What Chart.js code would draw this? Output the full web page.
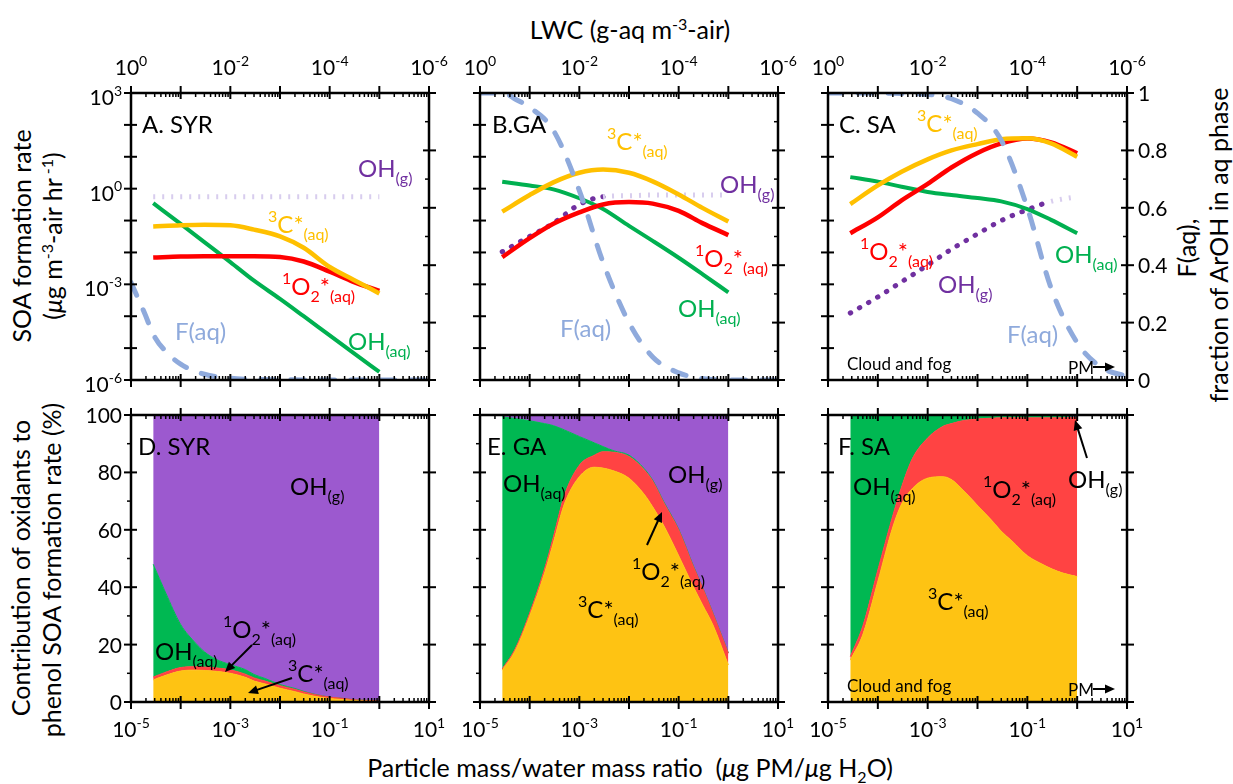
<!DOCTYPE html>
<html>
<head>
<meta charset="utf-8">
<script src="https://cdn.jsdelivr.net/npm/chart.js@4.4.0/dist/chart.umd.min.js"></script>
<style>
  body { margin: 0; width: 1233px; height: 784px; background: #fff; position: relative; overflow: hidden; font-family: Lato, sans-serif; }
  canvas { position: absolute; }
  .t { position: absolute; font-size: 25px; line-height: 1; white-space: nowrap; transform: translate(-50%, -50%); color: #000; }
  .r { transform: translate(-50%, -50%) rotate(-90deg); }
  .t sup, .t sub { font-size: 16px; }
</style>
</head>
<body>
<div class="t" style="left:630px; top:29px">LWC (g-aq m<sup>-3</sup>-air)</div>
<div class="t" style="left:630px; top:770px">Particle mass/water mass ratio&nbsp;&nbsp;(<i>μ</i>g PM/<i>μ</i>g H<sub>2</sub>O)</div>
<div class="t r" style="left:21px; top:236px">SOA formation rate</div>
<div class="t r" style="left:52px; top:236px">(<i>μ</i>g m<sup>-3</sup>-air hr<sup> -1</sup>)</div>
<div class="t r" style="left:20px; top:568px">Contribution of oxidants to</div>
<div class="t r" style="left:51px; top:570px">phenol SOA formation rate (%)</div>
<div class="t r" style="left:1186px; top:248px">F(aq),</div>
<div class="t r" style="left:1218px; top:245px">fraction of ArOH in aq phase</div>
<script>
// x grids (particle mass / water mass ratio)
const xRate = [2.8e-5, 1e-4, 3e-4, 1e-3, 3e-3, 1e-2, 3e-2, 0.1, 0.3, 1];
const xFaq = [1e-5, 1.8e-5, 3e-5, 5e-5, 1e-4, 3e-4, 1e-3, 3e-3, 1e-2, 3e-2, 0.1, 0.3, 1, 3, 10];
const xShare = [2.8e-5, 5e-5, 1e-4, 2e-4, 3e-4, 5e-4, 1e-3, 2e-3, 3e-3, 5e-3, 1e-2, 2e-2, 3e-2, 5e-2, 0.1, 0.2, 0.3, 0.5, 1];

// SOA formation rates (ug m-3 air hr-1)
const syrC3 = [0.065, 0.071, 0.074, 0.071, 0.052, 0.032, 0.014, 3.5e-3, 1.4e-3, 5.2e-4];
const syrO2 = [6.9e-3, 7.4e-3, 7.6e-3, 7.6e-3, 7.6e-3, 7.2e-3, 5.2e-3, 2.5e-3, 1.2e-3, 6.2e-4];
const syrOHaq = [0.35, 0.079, 0.021, 5.0e-3, 1.3e-3, 3.5e-4, 1.0e-4, 2.5e-5, 7.1e-6, 1.8e-6];
const syrOHg = [0.56, 0.56, 0.56, 0.56, 0.56, 0.56, 0.56, 0.56, 0.56, 0.56];
const syrFaq = [0.34, 0.24, 0.15, 0.1, 0.055, 0.02, 0.006, 0.002, 0.001, 0, 0, 0, 0, 0, 0];

const gaC3 = [0.19, 0.63, 1.58, 3.16, 3.98, 3.16, 1.70, 0.66, 0.25, 0.093];
const gaO2 = [7.1e-3, 0.028, 0.079, 0.18, 0.32, 0.38, 0.34, 0.20, 0.083, 0.035];
const gaOHaq = [1.66, 1.26, 0.95, 0.50, 0.23, 0.068, 0.023, 6.8e-3, 2.1e-3, 5.6e-4];
const gaOHg = [0.0105, 0.032, 0.083, 0.32, 0.56, 0.60, 0.63, 0.63, 0.63, 0.63];
const gaFaq = [1.0, 1.0, 1.0, 0.98, 0.95, 0.87, 0.66, 0.41, 0.2, 0.08, 0.025, 0.005, 0, 0, 0];

const saC3 = [0.33, 1.26, 3.4, 8.3, 15.8, 25, 35.5, 38, 26.3, 10];
const saO2 = [0.040, 0.126, 0.43, 1.41, 4.6, 13.2, 26.3, 37.2, 28.2, 12.9];
const saOHaq = [2.3, 1.66, 1.15, 0.79, 0.63, 0.51, 0.40, 0.23, 0.105, 0.040];
const saOHg = [1.26e-4, 4.0e-4, 1.2e-3, 4.0e-3, 0.0126, 0.038, 0.10, 0.22, 0.40, 0.56];
const saFaq = [1, 1, 1, 1, 1, 0.998, 0.995, 0.98, 0.93, 0.835, 0.6, 0.32, 0.13, 0.045, 0.012];

// contribution of oxidants (%)
const syrShC3 = [7.7, 9.3, 10.8, 11.1, 11, 10.7, 10, 8.6, 7.3, 6.3, 4.8, 3.6, 2.8, 2, 1.2, 0.8, 0.5, 0.35, 0.2];
const syrShO2 = [1.0, 1.1, 1.2, 1.2, 1.2, 1.2, 1.2, 1.1, 1.1, 1.0, 0.9, 0.8, 0.7, 0.6, 0.5, 0.4, 0.3, 0.25, 0.2];
const syrShOHaq = [39.3, 27.6, 15, 8.2, 5.3, 3.1, 1.8, 1.6, 1.2, 0.9, 0.4, 0.3, 0.2, 0.1, 0, 0, 0, 0, 0];
const syrShOHg = [52, 62, 73, 79.5, 82.5, 85, 87, 88.7, 90.4, 91.8, 93.9, 95.3, 96.3, 97.3, 98.3, 98.8, 99.2, 99.4, 99.6];

const gaShC3 = [11.1, 17.5, 30, 45, 55.5, 69, 78.5, 81.8, 81.5, 80.5, 78, 72.5, 68, 61.5, 51, 40, 34, 26.5, 12.9];
const gaShO2 = [0.4, 0.7, 1, 1.5, 2, 3, 4, 4.2, 5.7, 6.5, 7.5, 8.5, 9, 8, 9, 7, 6, 4, 4.1];
const gaShOHaq = [87.9, 80.6, 67, 50.5, 38.8, 22.8, 10, 4.3, 1.8, 0.5, 0.5, 0.4, 0.3, 0.3, 0.2, 0.2, 0.1, 0.1, 0.1];
const gaShOHg = [0.6, 1.2, 2, 3, 3.7, 5.2, 7.5, 9.7, 11, 12.5, 14, 18.6, 22.7, 30.2, 39.8, 52.8, 59.9, 69.4, 82.9];

const saShC3 = [14.6, 23.5, 42, 61, 69, 74.5, 78, 78.5, 77.5, 74, 68.5, 63, 59.5, 56, 51, 48, 46.5, 45, 43.7];
const saShO2 = [1.2, 3, 4, 4, 6, 10.5, 14, 17.5, 19.5, 24, 30.1, 35.9, 39.5, 43, 48, 51, 52.5, 54, 55.5];
const saShOHaq = [84.2, 73.5, 54, 35, 25, 15, 8, 4, 3, 2, 1.4, 1.1, 1, 0.9, 0.8, 0.8, 0.7, 0.5, 0];
const saShOHg = [0, 0, 0, 0, 0, 0, 0, 0, 0, 0, 0, 0, 0, 0.1, 0.2, 0.2, 0.3, 0.5, 0.8];

// ticks
const xDecades = [1e-5, 1e-4, 1e-3, 1e-2, 1e-1, 1, 10];
const xLabelVals = [1e-5, 1e-3, 1e-1, 10];
const xLabelTexts = ['10{-5}', '10{-3}', '10{-1}', '10{1}'];
const lwcLabelVals = [1, 1e-2, 1e-4, 1e-6];
const lwcLabelTexts = ['10{0}', '10{-2}', '10{-4}', '10{-6}'];
const rateDecades = [1e3, 1e2, 1e1, 1, 1e-1, 1e-2, 1e-3, 1e-4, 1e-5, 1e-6];
const rateLabelVals = [1e3, 1, 1e-3, 1e-6];
const rateLabelTexts = ['10{3}', '10{0}', '10{-3}', '10{-6}'];
const faqTicks = [0, 0.2, 0.4, 0.6, 0.8, 1];
const faqMinor = [0.1, 0.3, 0.5, 0.7, 0.9];
const faqLabels = ['0', '0.2', '0.4', '0.6', '0.8', '1'];
const shareTicks = [0, 20, 40, 60, 80, 100];
const shareMinor = [10, 30, 50, 70, 90];

const YEL = '#ffc000', RED = '#ff0000', GRN = '#00b050', PUR = '#7030a0', BLU = '#8faadc', LILAC = '#d8cdee';

const M = { l: 70, r: 70, t: 48, b: 48 };

// '{x}' = superscript, '[x]' = subscript
function parseRich(s) {
  const out = [];
  const re = /\{([^}]*)\}|\[([^\]]*)\]|([^{\[]+)/g;
  let m;
  while ((m = re.exec(s))) {
    if (m[1] !== undefined) out.push([m[1], 1]);
    else if (m[2] !== undefined) out.push([m[2], -1]);
    else out.push([m[3], 0]);
  }
  return out;
}

function drawRich(ctx, s, x, y, size, color, align, small) {
  const parts = parseRich(s);
  const sm = small || Math.round(size * 0.68);
  let w = 0;
  for (const p of parts) {
    ctx.font = (p[1] ? sm : size) + 'px Lato';
    p.w = ctx.measureText(p[0]).width;
    w += p.w;
  }
  let cx = align === 'right' ? x - w : align === 'center' ? x - w / 2 : x;
  ctx.fillStyle = color;
  ctx.textAlign = 'left';
  ctx.textBaseline = 'alphabetic';
  for (const p of parts) {
    ctx.font = (p[1] ? sm : size) + 'px Lato';
    const dy = p[1] === 1 ? -size * 0.45 : p[1] === -1 ? size * 0.3 : 0;
    ctx.fillText(p[0], cx, y + dy);
    cx += p.w;
  }
}

function arrow(ctx, x1, y1, x2, y2) {
  const ang = Math.atan2(y2 - y1, x2 - x1);
  const hl = 10, hw = 4.5;
  ctx.strokeStyle = '#000';
  ctx.fillStyle = '#000';
  ctx.lineWidth = 2;
  ctx.beginPath();
  ctx.moveTo(x1, y1);
  ctx.lineTo(x2 - Math.cos(ang) * hl * 0.8, y2 - Math.sin(ang) * hl * 0.8);
  ctx.stroke();
  ctx.beginPath();
  ctx.moveTo(x2, y2);
  ctx.lineTo(x2 - Math.cos(ang) * hl - Math.sin(ang) * hw, y2 - Math.sin(ang) * hl + Math.cos(ang) * hw);
  ctx.lineTo(x2 - Math.cos(ang) * hl + Math.sin(ang) * hw, y2 - Math.sin(ang) * hl - Math.cos(ang) * hw);
  ctx.closePath();
  ctx.fill();
}

function makeDeco(p) {
  return {
    id: 'deco' + p.key,
    afterDraw(chart) {
      const ctx = chart.ctx, a = chart.chartArea;
      const sx = chart.scales.x, sx2 = chart.scales.x2, sy = chart.scales.y, sy2 = chart.scales.y2;
      const rate = p.kind === 'rate';
      const seg = (x1, y1, x2, y2) => { ctx.beginPath(); ctx.moveTo(x1, y1); ctx.lineTo(x2, y2); ctx.stroke(); };
      ctx.save();
      ctx.strokeStyle = '#000';
      ctx.lineWidth = 2.5;
      ctx.strokeRect(a.left, a.top, a.right - a.left, a.bottom - a.top);
      ctx.lineWidth = 2;
      // x axis ticks, bottom and top
      for (const v of xDecades) {
        const px = sx.getPixelForValue(v);
        seg(px, a.bottom - 6, px, a.bottom + 7);
        seg(px, a.top - 7, px, a.top + 6);
      }
      ctx.lineWidth = 1.5;
      for (let d = -5; d < 1; d++) {
        for (let m = 2; m < 10; m++) {
          const px = sx.getPixelForValue(m * Math.pow(10, d));
          seg(px, a.bottom - 4, px, a.bottom);
          seg(px, a.top, px, a.top + 4);
        }
      }
      ctx.lineWidth = 2;
      if (rate) {
        for (const v of rateDecades) {
          const py = sy.getPixelForValue(v);
          seg(a.left - 7, py, a.left + 6, py);
        }
        for (const v of faqTicks) {
          const py = sy2.getPixelForValue(v);
          seg(a.right - 6, py, a.right + 7, py);
        }
        ctx.lineWidth = 1.5;
        for (const v of faqMinor) {
          const py = sy2.getPixelForValue(v);
          seg(a.right - 4, py, a.right, py);
        }
      } else {
        for (const v of shareTicks) {
          const py = sy.getPixelForValue(v);
          seg(a.left - 7, py, a.left + 6, py);
          seg(a.right - 6, py, a.right + 7, py);
        }
        ctx.lineWidth = 1.5;
        for (const v of shareMinor) {
          const py = sy.getPixelForValue(v);
          seg(a.left - 4, py, a.left, py);
        }
      }
      // tick labels
      if (p.topLabels) {
        lwcLabelVals.forEach((v, i) => drawRich(ctx, lwcLabelTexts[i], sx2.getPixelForValue(v), a.top - 18, 21, '#000', 'center', 14));
      }
      if (p.bottomLabels) {
        xLabelVals.forEach((v, i) => drawRich(ctx, xLabelTexts[i], sx.getPixelForValue(v), a.bottom + 35, 21, '#000', 'center', 14));
      }
      if (p.leftLabels) {
        if (rate) {
          rateLabelVals.forEach((v, i) => drawRich(ctx, rateLabelTexts[i], a.left - 9, sy.getPixelForValue(v) + 12, 21, '#000', 'right', 14));
        } else {
          shareTicks.forEach(v => drawRich(ctx, String(v), a.left - 9, sy.getPixelForValue(v) + 8, 21, '#000', 'right'));
        }
      }
      if (p.rightLabels) {
        faqTicks.forEach((v, i) => drawRich(ctx, faqLabels[i], a.right + 11, sy2.getPixelForValue(v) + 8, 21, '#000', 'left'));
      }
      // annotations
      for (const n of p.notes) {
        drawRich(ctx, n.s, a.left + n.x, a.top + n.y, n.f || 24, n.c || '#000', 'left', n.f ? undefined : 16);
      }
      for (const r of (p.arrows || [])) {
        arrow(ctx, a.left + r[0], a.top + r[1], a.left + r[2], a.top + r[3]);
      }
      ctx.restore();
    }
  };
}

const pts = (xs, ys) => xs.map((x, i) => ({ x: x, y: ys[i] }));

// OH(g) is drawn as dark dots up to index `faintFrom`, then as a pale hatched trace
function rateSets(c3, o2, ohaq, ohg, faq, faintFrom) {
  const line = (data, color, extra) => Object.assign({
    data: data, borderColor: color, borderWidth: 4.5, pointRadius: 0, fill: false,
    cubicInterpolationMode: 'monotone'
  }, extra);
  const pale = c => c.p0DataIndex >= faintFrom;
  return [
    line(pts(xFaq, faq), BLU, { yAxisID: 'y2', borderDash: [14, 16], borderCapStyle: 'round', borderWidth: 5, order: 0 }),
    line(pts(xRate, c3), YEL, { order: 1 }),
    line(pts(xRate, o2), RED, { order: 2 }),
    line(pts(xRate, ohaq), GRN, { order: 3, borderWidth: 4 }),
    line(pts(xRate, ohg), PUR, {
      order: 4, borderWidth: 5, borderCapStyle: 'round', borderDash: [0.5, 10],
      segment: {
        borderColor: c => pale(c) ? LILAC : PUR,
        borderDash: c => pale(c) ? [2, 7] : [0.5, 10],
        borderCapStyle: c => pale(c) ? 'butt' : 'round'
      }
    })
  ];
}

function shareSets(c3, o2, ohaq, ohg) {
  const area = (ys, color, fill) => ({
    data: pts(xShare, ys), backgroundColor: color, borderColor: color, borderWidth: 1,
    pointRadius: 0, fill: fill, cubicInterpolationMode: 'monotone'
  });
  return [
    area(c3, '#fec313', 'origin'),
    area(o2, '#ff4343', '-1'),
    area(ohaq, '#00b852', '-1'),
    area(ohg, '#9c59cf', '-1')
  ];
}

const panels = [
  { key: 'A', kind: 'rate', l: 131, t: 93, w: 298, h: 287, leftLabels: true, topLabels: true,
    sets: () => rateSets(syrC3, syrO2, syrOHaq, syrOHg, syrFaq, 0),
    notes: [
      { s: 'A. SYR', x: 11, y: 40, f: 24 },
      { s: 'OH[(g)]', x: 227, y: 84, c: PUR },
      { s: '{3}C*[(aq)]', x: 137, y: 140, c: YEL },
      { s: '{1}O[2]*[(aq)]', x: 151, y: 202, c: RED },
      { s: 'F(aq)', x: 44, y: 247, c: BLU },
      { s: 'OH[(aq)]', x: 217, y: 257, c: GRN }
    ] },
  { key: 'B', kind: 'rate', l: 480, t: 93, w: 298, h: 287, topLabels: true,
    sets: () => rateSets(gaC3, gaO2, gaOHaq, gaOHg, gaFaq, 4),
    notes: [
      { s: 'B.GA', x: 12, y: 40, f: 24 },
      { s: '{3}C*[(aq)]', x: 127, y: 57, c: YEL },
      { s: 'OH[(g)]', x: 240, y: 100, c: PUR },
      { s: '{1}O[2]*[(aq)]', x: 215, y: 174, c: RED },
      { s: 'OH[(aq)]', x: 198, y: 224, c: GRN },
      { s: 'F(aq)', x: 80, y: 244, c: BLU }
    ] },
  { key: 'C', kind: 'rate', l: 828, t: 93, w: 299, h: 287, topLabels: true, rightLabels: true,
    sets: () => rateSets(saC3, saO2, saOHaq, saOHg, saFaq, 8),
    notes: [
      { s: 'C. SA', x: 11, y: 40, f: 24 },
      { s: '{3}C*[(aq)]', x: 89, y: 39, c: YEL },
      { s: '{1}O[2]*[(aq)]', x: 32, y: 167, c: RED },
      { s: 'OH[(g)]', x: 110, y: 200, c: PUR },
      { s: 'OH[(aq)]', x: 227, y: 170, c: GRN },
      { s: 'F(aq)', x: 179, y: 250, c: BLU },
      { s: 'Cloud and fog', x: 19, y: 277, f: 17 },
      { s: 'PM', x: 240, y: 281, f: 17 }
    ],
    arrows: [[265, 274, 287, 274]] },
  { key: 'D', kind: 'share', l: 131, t: 415, w: 298, h: 287, leftLabels: true, bottomLabels: true,
    sets: () => shareSets(syrShC3, syrShO2, syrShOHaq, syrShOHg),
    notes: [
      { s: 'D. SYR', x: 7, y: 40, f: 24 },
      { s: 'OH[(g)]', x: 159, y: 80 },
      { s: 'OH[(aq)]', x: 24, y: 245 },
      { s: '{1}O[2]*[(aq)]', x: 92, y: 223 },
      { s: '{3}C*[(aq)]', x: 157, y: 267 }
    ],
    arrows: [[121, 230, 94, 257], [161, 263, 117, 278]] },
  { key: 'E', kind: 'share', l: 480, t: 415, w: 298, h: 287, bottomLabels: true,
    sets: () => shareSets(gaShC3, gaShO2, gaShOHaq, gaShOHg),
    notes: [
      { s: 'E. GA', x: 7, y: 40, f: 24 },
      { s: 'OH[(aq)]', x: 23, y: 77 },
      { s: 'OH[(g)]', x: 188, y: 68 },
      { s: '{1}O[2]*[(aq)]', x: 152, y: 165 },
      { s: '{3}C*[(aq)]', x: 98, y: 203 }
    ],
    arrows: [[167, 130, 182, 97]] },
  { key: 'F', kind: 'share', l: 828, t: 415, w: 299, h: 287, bottomLabels: true,
    sets: () => shareSets(saShC3, saShO2, saShOHaq, saShOHg),
    notes: [
      { s: 'F. SA', x: 10, y: 40, f: 24 },
      { s: 'OH[(aq)]', x: 25, y: 80 },
      { s: '{1}O[2]*[(aq)]', x: 155, y: 83 },
      { s: '{3}C*[(aq)]', x: 100, y: 195 },
      { s: 'OH[(g)]', x: 240, y: 73 },
      { s: 'Cloud and fog', x: 19, y: 277, f: 17 },
      { s: 'PM', x: 240, y: 281, f: 17 }
    ],
    arrows: [[259, 43, 247, 5], [265, 274, 287, 274]] }
];

function hidden(extra, size, horiz) {
  return Object.assign({
    ticks: { display: false },
    grid: { display: false },
    border: { display: false },
    afterFit: s => { if (horiz) s.height = size; else s.width = size; }
  }, extra);
}

function build(p) {
  const cv = document.createElement('canvas');
  cv.width = p.w + M.l + M.r;
  cv.height = p.h + M.t + M.b;
  cv.style.left = (p.l - M.l) + 'px';
  cv.style.top = (p.t - M.t) + 'px';
  document.body.appendChild(cv);
  const rate = p.kind === 'rate';
  new Chart(cv, {
    type: 'line',
    data: { datasets: p.sets() },
    options: {
      responsive: false,
      animation: false,
      events: [],
      layout: { padding: 0 },
      plugins: { legend: { display: false }, tooltip: { enabled: false } },
      scales: {
        x: hidden({ type: 'logarithmic', position: 'bottom', min: 1e-5, max: 10 }, M.b, true),
        x2: hidden({ type: 'logarithmic', position: 'top', min: 1e-6, max: 1, reverse: true }, M.t, true),
        y: rate
          ? hidden({ type: 'logarithmic', position: 'left', min: 1e-6, max: 1e3 }, M.l, false)
          : hidden({ type: 'linear', position: 'left', min: 0, max: 100, stacked: true }, M.l, false),
        y2: hidden({ type: 'linear', position: 'right', min: 0, max: rate ? 1 : 100 }, M.r, false)
      }
    },
    plugins: [makeDeco(p)]
  });
}

document.fonts.load('24px Lato').then(() => panels.forEach(build), () => panels.forEach(build));
</script>
</body>
</html>
